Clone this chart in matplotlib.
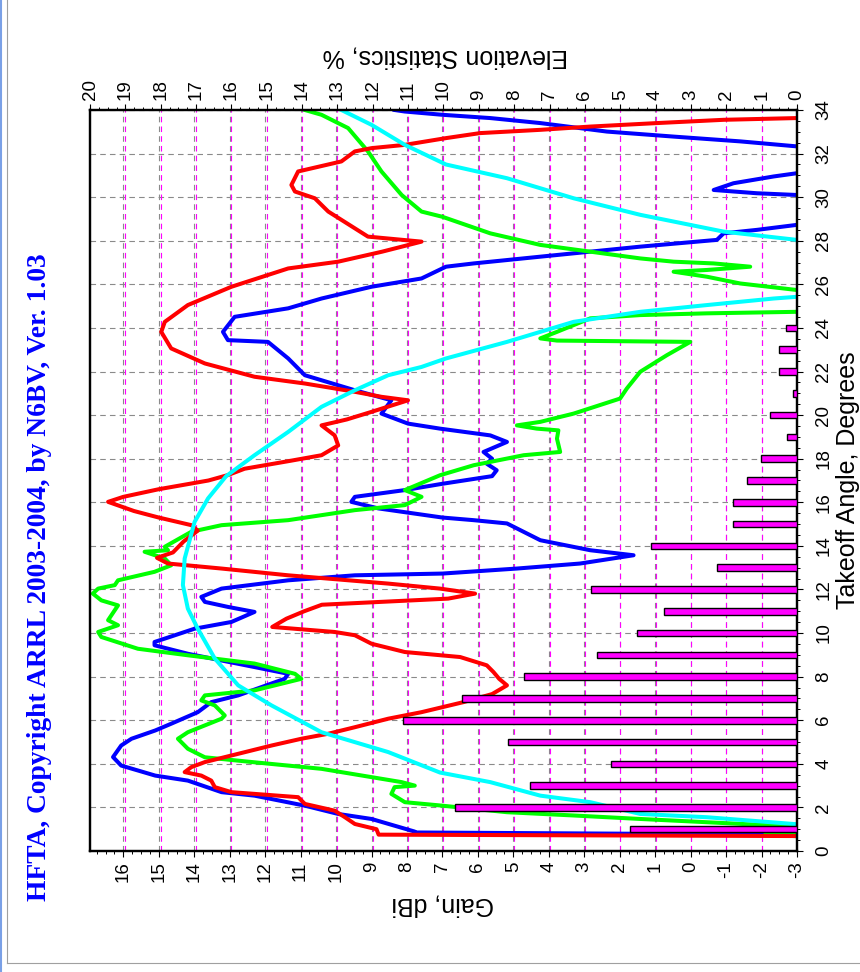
import matplotlib
matplotlib.use("Agg")
import matplotlib.pyplot as plt
from matplotlib.lines import Line2D
from matplotlib.ticker import MultipleLocator
from matplotlib.transforms import blended_transform_factory

plt.rcParams['font.family'] = ['Liberation Sans', 'DejaVu Sans']
plt.rcParams['lines.scale_dashes'] = False
plt.rcParams['axes.unicode_minus'] = False

# elevation statistics (% of openings at each takeoff angle)
bar_angle = [1, 2, 3, 4, 5, 6, 7, 8, 9, 10, 11, 12,
             13, 14, 15, 16, 17, 18, 19, 20, 21, 22, 23, 24]
bar_pct = [4.73, 9.68, 7.54, 5.27, 8.17, 11.15, 9.47, 7.72, 5.65, 4.54, 3.76, 5.84,
           2.25, 4.14, 1.82, 1.82, 1.42, 1.03, 0.29, 0.75, 0.10, 0.50, 0.50, 0.31]

# gain patterns, dBi vs takeoff angle (values below -3 fall off the scale)
red_angle = [0.68, 0.75, 1.0, 1.24, 1.55, 1.85, 2.16, 2.47, 2.7, 2.93, 3.23, 3.46,
             3.62, 3.85, 4.08, 4.46, 4.84, 5.15, 5.38, 5.68, 6.07, 6.37, 6.6, 6.83,
             7.2, 7.6, 7.9, 8.21, 8.52, 8.9, 9.13, 9.51, 9.9, 10.05, 10.28, 10.66,
             11.0, 11.3, 11.58, 11.81, 12.04, 12.27, 12.65, 12.96, 13.19, 13.45,
             13.7, 14.2, 14.7, 14.95, 15.3, 15.6, 16.02, 16.25, 16.6, 17.0, 17.25,
             17.54, 17.9, 18.16, 18.61, 19.07, 19.53, 19.8, 20.15, 20.68, 20.84,
             21.07, 21.45, 21.76, 22.37, 23.06, 23.82, 24.28, 25.05, 25.89, 26.73,
             27.04, 27.5, 27.96, 28.19, 28.57, 29.34, 29.95, 30.26, 30.56, 31.18,
             31.64, 32.1, 32.25, 32.4, 32.71, 32.94, 33.09, 33.24, 33.4, 33.55,
             33.63, 33.7]
red_gain = [-4.0, 8.8, 8.86, 9.47, 9.75, 10.04, 10.88, 11.07, 12.95, 13.42, 13.52, 13.8,
            14.27, 14.08, 13.7, 12.76, 11.82, 10.98, 10.22, 9.47, 8.53, 7.59, 7.0, 6.41,
            5.6, 5.18, 5.4, 5.56, 5.75, 6.5, 8.06, 9.0, 9.47, 10.04, 11.8, 11.4,
            10.9, 10.4, 6.84, 6.08, 7.07, 8.53, 11.35, 13.23, 14.74, 15.05,
            14.6, 14.3, 13.9, 14.08, 15.0, 15.7, 16.43, 16.0, 15.0, 13.6, 13.05,
            12.58, 11.3, 10.41, 9.94, 10.04, 10.41, 9.7, 9.0, 7.97, 8.72,
            9.47, 10.88, 12.3, 13.7, 14.65, 14.93, 14.83, 14.18, 12.95, 11.35,
            9.94, 8.7, 7.59, 9.1, 9.47, 10.22, 10.6, 11.16, 11.26, 11.07,
            9.85, 9.47, 9.0, 8.06, 6.9, 5.94, 4.24, 2.83, 0.95, -0.93,
            -3.0, -4.0]

blue_angle = [0.74, 0.85, 0.89, 1.47, 1.7, 2.08, 2.54, 2.7, 3.23, 3.46, 3.92, 4.31,
              4.84, 5.15, 5.53, 5.84, 6.37, 6.83, 7.14, 7.9, 8.13, 8.44, 9.05, 9.44,
              9.59, 10.2, 10.51, 10.97, 11.2, 11.43, 11.66, 12.04, 12.42, 12.65,
              12.73, 12.96, 13.19, 13.57, 13.8, 14.26, 15.03, 15.18, 15.3, 15.72,
              16.02, 16.25, 16.56, 16.85, 17.2, 17.47, 17.77, 18.0, 18.31, 18.77,
              19.07, 19.38, 19.61, 20.07, 20.68, 21.14, 21.83, 22.6, 23.36, 23.44,
              23.82, 24.51, 24.9, 25.35, 25.89, 26.27, 26.81, 26.96, 27.27, 27.5,
              27.73, 28.04, 28.34, 28.5, 28.73, 29.0, 29.9, 30.1, 30.18, 30.33,
              30.64, 30.95, 31.1, 31.3, 32.1, 32.33, 32.56, 32.78, 33.01, 33.4,
              33.63, 33.78, 33.93, 34.0]
blue_gain = [-4.0, 7.8, 7.78, 9.0, 9.94, 10.88, 12.3, 13.23, 14.18, 15.1, 16.06, 16.29,
             16.06, 15.77, 15.1, 14.65, 13.9, 13.52, 12.76, 11.45, 11.35, 12.3, 14.18, 15.12,
             15.12, 13.99, 12.95, 12.3, 13.05, 13.7, 13.8, 13.23, 11.35, 9.47,
             7.0, 4.9, 3.12, 1.61, 2.83, 4.24, 5.18, 6.12, 7.0, 8.81,
             9.57, 9.47, 8.06, 7.0, 5.6, 5.47, 5.75, 5.6, 5.84, 5.18,
             5.65, 7.07, 7.97, 8.72, 8.44, 9.47, 10.88, 11.35, 11.92, 13.05,
             13.19, 12.86, 11.35, 10.41, 9.0, 7.59, 6.9, 6.12, 4.24, 2.83,
             1.42, -0.74, -0.93, -1.87, -3.0, -5.0, -5.0, -3.0, -1.87, -0.65,
             -1.21, -2.34, -3.0, -5.0, -5.0, -3.0, -1.4, 0.48, 2.36, 4.24,
             5.65, 7.0, 8.06, 8.35]

green_angle = [0.6, 0.75, 0.9, 1.05, 1.09, 1.17, 1.32, 1.47, 1.63, 1.78, 2.09, 2.24,
               2.62, 2.93, 3.0, 3.16, 3.77, 4.07, 4.3, 4.69, 5.15, 5.45, 6.07, 6.22,
               6.68, 6.91, 7.14, 7.37, 7.9, 8.13, 8.6, 8.98, 9.28, 9.82, 10.05, 10.36,
               10.59, 11.27, 11.5, 11.81, 12.04, 12.2, 12.42, 12.81, 13.11, 13.42,
               13.73, 13.8, 13.96, 14.65, 14.95, 15.18, 15.64, 15.87, 16.25, 16.56,
               17.24, 17.7, 18.16, 18.31, 18.92, 19.3, 19.38, 19.53, 19.69, 20.07,
               20.76, 21.22, 21.99, 22.75, 23.36, 23.42, 23.52, 23.82, 24.44, 24.59,
               24.67, 24.74, 24.8, 25.6, 25.74, 26.04, 26.35, 26.58, 26.66, 26.81,
               26.96, 27.04, 27.19, 27.5, 27.81, 28.34, 29.1, 29.34, 30.1, 31.18,
               32.1, 33.17, 33.78, 34.0]
green_gain = [-4.0, -2.1, -4.0, -4.0, -3.0, -2.34, -0.46, 1.42, 3.3, 5.18, 7.07, 8.06,
              8.44, 8.35, 7.78, 8.15, 10.41, 12.3, 13.7, 14.18, 14.46, 14.18, 13.23, 13.14,
              13.42, 13.8, 13.7, 12.3, 10.98, 11.16, 12.3, 14.18, 15.59, 16.62, 16.71, 16.15,
              16.43, 16.15, 16.62, 16.86, 16.71, 16.24, 16.15, 15.12, 14.65, 14.83,
              15.4, 14.74, 14.83, 14.08, 13.23, 11.35, 9.47, 8.06, 7.59, 8.06,
              7.07, 6.12, 4.71, 3.68, 3.77, 3.73, 4.34, 4.9, 4.24, 3.3,
              1.99, 1.8, 1.42, 0.67, 0.01, 3.77, 4.24, 3.77, 2.83, 1.42,
              -0.46, -3.0, -5.0, -5.0, -3.0, -1.4, -0.46, 0.48, -0.46, -1.68,
              -0.65, 0.48, 1.42, 2.83, 4.24, 5.65, 7.0, 7.59, 8.15, 8.72,
              9.1, 9.66, 10.41, 10.88]

cyan_angle = [1.15, 1.24, 1.55, 1.7, 2.24, 2.54, 3.16, 3.6, 4.54, 5.45, 6.68, 7.6,
              8.83, 10.2, 11.12, 12.2, 13.42, 15.1, 16.18, 17.2, 18.16, 19.23, 20.38,
              21.14, 21.83, 22.21, 22.6, 23.36, 24.28, 24.74, 25.05, 25.35, 25.43,
              25.6, 27.9, 28.04, 28.42, 29.19, 29.95, 30.87, 31.5, 32.4, 33.32, 34.0]
cyan_gain = [-4.0, -2.9, -0.46, 1.42, 2.83, 4.24, 5.65, 7.07, 8.53, 10.41, 11.82, 12.76,
             13.42, 13.9, 14.18, 14.32, 14.27, 13.99, 13.61, 13.1, 12.3, 11.35, 10.41,
             9.47, 8.53, 7.59, 6.9, 5.18, 3.3, 1.42, -0.46, -2.34, -3.0,
             -5.0, -5.0, -3.0, -0.93, 1.42, 3.3, 5.18, 6.9, 8.06, 9.0, 9.85]

W, H = 860, 972
fig = plt.figure(figsize=(W / 100, H / 100), dpi=100)
ax = fig.add_axes([90 / W, 1 - 851 / H, 707 / W, 741 / H])
ax2 = ax.twiny()

# gray grid on gain / angle, magenta grid on the elevation scale
ax.grid(True, which='major', color='#8a8a8a', linestyle=(0, (4, 3)), linewidth=0.8)
el_trans = blended_transform_factory(ax2.transData, ax.transAxes)
for e in range(1, 20):
    ax.add_line(Line2D([e, e], [0, 1], transform=el_trans, color='#ff00ff',
                       linestyle=(0, (4, 3)), linewidth=0.8, zorder=1.6))

lw = 2.9
ax.plot(blue_gain, blue_angle, color='#0000ff', lw=lw, zorder=2.1)
ax.plot(green_gain, green_angle, color='#00ff00', lw=lw, zorder=2.2)
ax.plot(red_gain, red_angle, color='#ff0000', lw=lw, zorder=2.3)
ax.plot(cyan_gain, cyan_angle, color='#00ffff', lw=lw, zorder=2.4)

ax2.barh(bar_angle, bar_pct, height=0.3, color='#ff00ff', edgecolor='black',
         linewidth=1.0, zorder=3)

ax.set_xlim(16.94, -3)
ax.set_ylim(0, 34)
ax2.set_xlim(20, 0)

ax.xaxis.set_major_locator(MultipleLocator(1))
ax.xaxis.set_minor_locator(MultipleLocator(0.25))
ax.yaxis.set_major_locator(MultipleLocator(2))
ax.yaxis.set_minor_locator(MultipleLocator(0.5))
ax.yaxis.tick_right()
ax2.xaxis.set_major_locator(MultipleLocator(1))
ax2.xaxis.set_minor_locator(MultipleLocator(0.25))

for a in (ax, ax2):
    a.tick_params(which='major', length=4.3, width=0.8, direction='out',
                  labelsize=13.5, labelrotation=90, pad=3)
    a.tick_params(which='minor', length=2.2, width=0.7, direction='out')
    for s in a.spines.values():
        s.set_linewidth(1.6)
        s.set_color('black')
ax.tick_params(axis='y', which='major', pad=9)
for lab in ax.get_yticklabels():
    lab.set_va('center')

fig.text(445 / W, 1 - 57 / H, 'Elevation Statistics, %', rotation=180,
         ha='center', va='center', fontsize=18)
fig.text(443 / W, 1 - 905 / H, 'Gain, dBi', rotation=180,
         ha='center', va='center', fontsize=18)
fig.text(848 / W, 1 - 480 / H, 'Takeoff Angle, Degrees', rotation=90,
         ha='center', va='center', fontsize=18)
fig.text(40 / W, 1 - 577 / H, 'HFTA, Copyright ARRL 2003-2004, by N6BV, Ver. 1.03',
         rotation=90, ha='center', va='center', fontsize=19.8, color='#0000ff',
         family='Liberation Serif', weight='bold')

# window frame edges
fig.add_artist(Line2D([1 / W, 1 / W], [0, 1], color='#7aa0e6', lw=1.5))
fig.add_artist(Line2D([6.5 / W, 6.5 / W], [1 - 963 / H, 1], color='#a0a0a0', lw=0.8))
fig.add_artist(Line2D([6.5 / W, 1], [1 - 963 / H, 1 - 963 / H], color='#a0a0a0', lw=0.8))

fig.savefig('out.png', dpi=100)
